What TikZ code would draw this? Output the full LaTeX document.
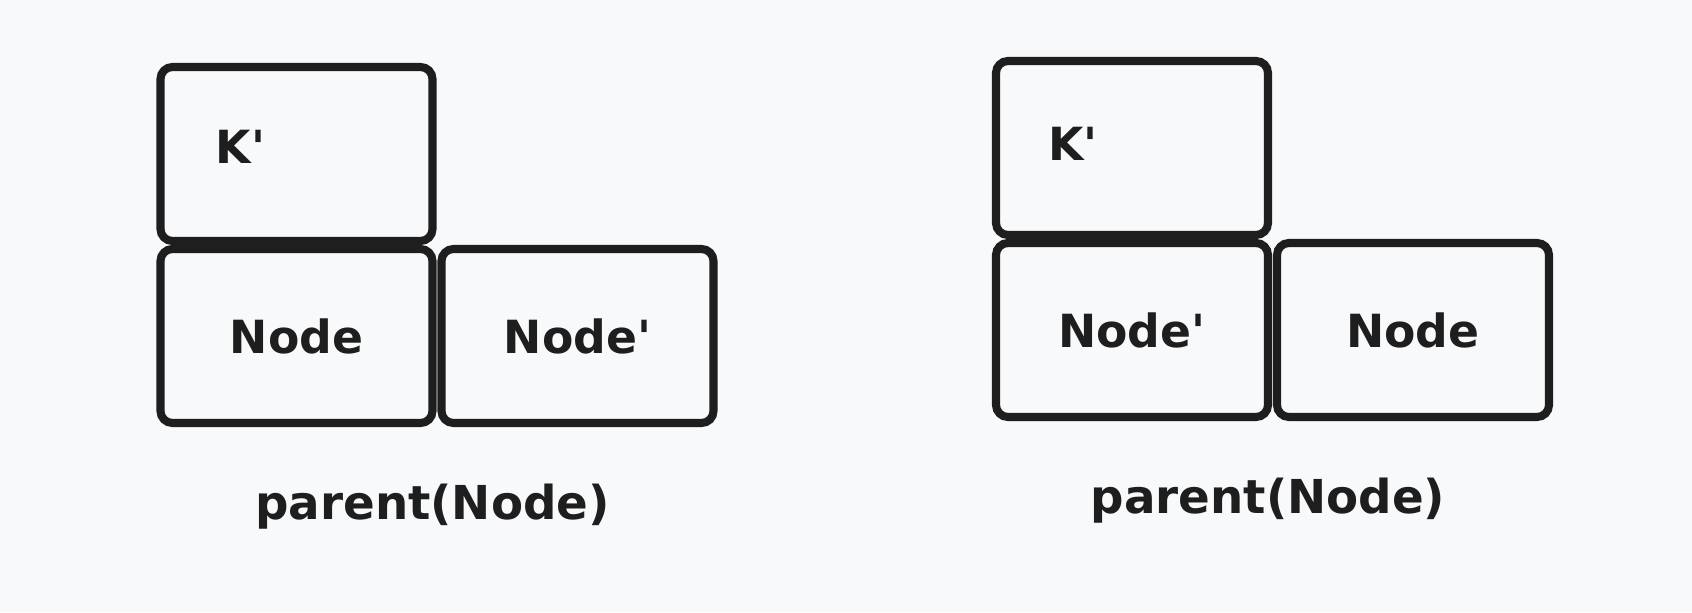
\documentclass[tikz,border=0pt]{standalone}
\usepackage{fontspec}
\setmainfont{DejaVu Sans}
\usetikzlibrary{positioning}

\definecolor{paper}{RGB}{248,249,251}
\definecolor{ink}{RGB}{30,30,30}

\newcommand{\tick}{\textquotesingle}

\tikzset{
  cell/.style={draw=ink, line width=2.3pt, rounded corners=0.12cm,
    minimum width=2.72cm, minimum height=1.74cm, outer sep=0pt,
    inner sep=0pt, font=\bfseries\fontsize{13}{15}\selectfont, text=ink},
  tag/.style={font=\bfseries\fontsize{13}{15}\selectfont, text=ink, inner sep=0pt},
  caption/.style={font=\bfseries\fontsize{13.3}{16}\selectfont, text=ink, inner sep=0pt},
  node distance=0.08cm
}

\begin{document}
\begin{tikzpicture}

  % canvas
  \fill[paper] (0,0) rectangle (16.92,-6.12);
  \useasboundingbox (0,0) rectangle (16.92,-6.12);

  % Left: K' above Node, Node' beside it
  \node[cell] (lnode) at (2.965,-3.36) {Node};
  \node[cell, above=of lnode] (lk) {};
  \node[cell, right=0.09cm of lnode] (lnodep) {Node\tick};
  \node[tag] (lktext) at ([shift={(0.80,-0.80)}]lk.north west) {K\tick};
  \node[caption, below=0.60cm of lnode.south east] (lparent) {parent(Node)};

  % Right: K' above Node', Node beside it
  \node[cell] (rnodep) at (11.32,-3.30) {Node\tick};
  \node[cell, above=of rnodep] (rk) {};
  \node[cell, right=0.09cm of rnodep] (rnode) {Node};
  \node[tag] (rktext) at ([shift={(0.77,-0.83)}]rk.north west) {K\tick};
  \node[caption, below=0.60cm of rnodep.south east] (rparent) {parent(Node)};

\end{tikzpicture}
\end{document}
